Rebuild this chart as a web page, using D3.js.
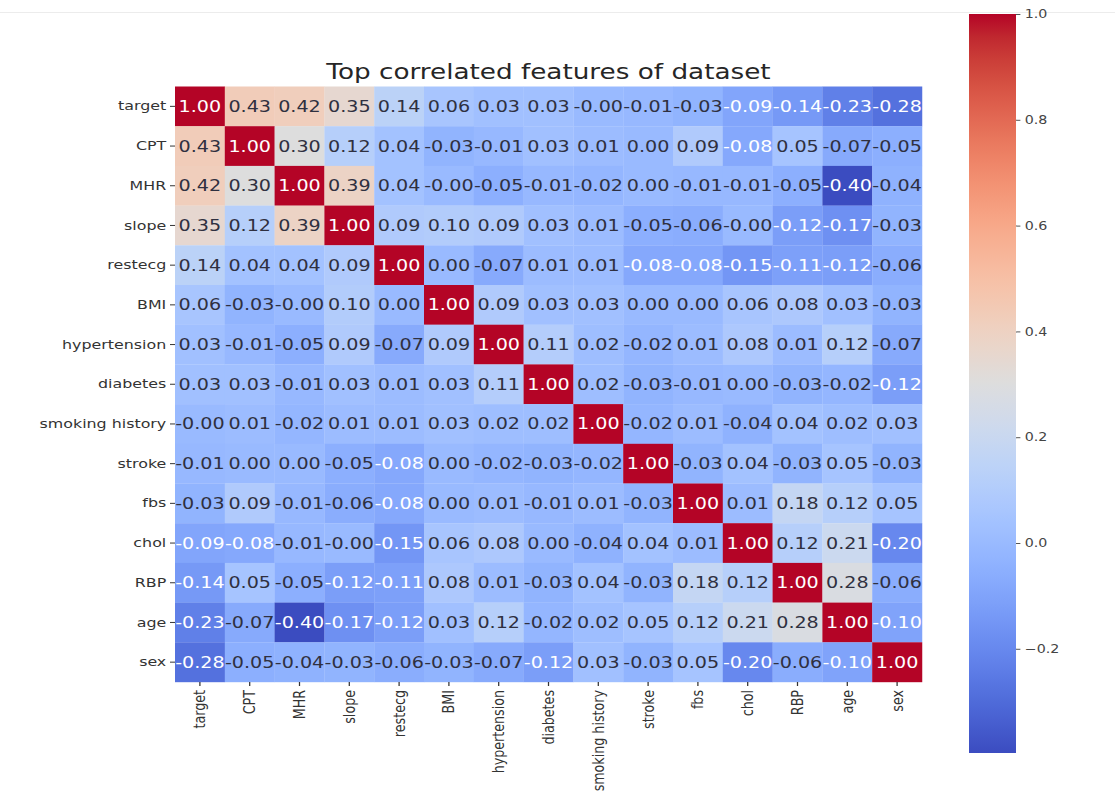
<!DOCTYPE html>
<html>
<head>
<meta charset="utf-8">
<script src="https://cdn.jsdelivr.net/npm/d3@7"></script>
<style>
  html, body { margin: 0; padding: 0; background: #ffffff; }
  svg { display: block; font-family: "DejaVu Sans", sans-serif; }
</style>
</head>
<body>
<svg id="chart" width="1115" height="800"></svg>
<script>
// ---------------- data ----------------
const features = ["target", "CPT", "MHR", "slope", "restecg", "BMI", "hypertension", "diabetes",
  "smoking history", "stroke", "fbs", "chol", "RBP", "age", "sex"];

const rowTarget   = [1.00, 0.43, 0.42, 0.35, 0.14, 0.06, 0.03, 0.03, -0.00, -0.01, -0.03, -0.09, -0.14, -0.23, -0.28];
const rowCPT      = [0.43, 1.00, 0.30, 0.12, 0.04, -0.03, -0.01, 0.03, 0.01, 0.00, 0.09, -0.08, 0.05, -0.07, -0.05];
const rowMHR      = [0.42, 0.30, 1.00, 0.39, 0.04, -0.00, -0.05, -0.01, -0.02, 0.00, -0.01, -0.01, -0.05, -0.40, -0.04];
const rowSlope    = [0.35, 0.12, 0.39, 1.00, 0.09, 0.10, 0.09, 0.03, 0.01, -0.05, -0.06, -0.00, -0.12, -0.17, -0.03];
const rowRestecg  = [0.14, 0.04, 0.04, 0.09, 1.00, 0.00, -0.07, 0.01, 0.01, -0.08, -0.08, -0.15, -0.11, -0.12, -0.06];
const rowBMI      = [0.06, -0.03, -0.00, 0.10, 0.00, 1.00, 0.09, 0.03, 0.03, 0.00, 0.00, 0.06, 0.08, 0.03, -0.03];
const rowHypert   = [0.03, -0.01, -0.05, 0.09, -0.07, 0.09, 1.00, 0.11, 0.02, -0.02, 0.01, 0.08, 0.01, 0.12, -0.07];
const rowDiabetes = [0.03, 0.03, -0.01, 0.03, 0.01, 0.03, 0.11, 1.00, 0.02, -0.03, -0.01, 0.00, -0.03, -0.02, -0.12];
const rowSmoking  = [-0.00, 0.01, -0.02, 0.01, 0.01, 0.03, 0.02, 0.02, 1.00, -0.02, 0.01, -0.04, 0.04, 0.02, 0.03];
const rowStroke   = [-0.01, 0.00, 0.00, -0.05, -0.08, 0.00, -0.02, -0.03, -0.02, 1.00, -0.03, 0.04, -0.03, 0.05, -0.03];
const rowFbs      = [-0.03, 0.09, -0.01, -0.06, -0.08, 0.00, 0.01, -0.01, 0.01, -0.03, 1.00, 0.01, 0.18, 0.12, 0.05];
const rowChol     = [-0.09, -0.08, -0.01, -0.00, -0.15, 0.06, 0.08, 0.00, -0.04, 0.04, 0.01, 1.00, 0.12, 0.21, -0.20];
const rowRBP      = [-0.14, 0.05, -0.05, -0.12, -0.11, 0.08, 0.01, -0.03, 0.04, -0.03, 0.18, 0.12, 1.00, 0.28, -0.06];
const rowAge      = [-0.23, -0.07, -0.40, -0.17, -0.12, 0.03, 0.12, -0.02, 0.02, 0.05, 0.12, 0.21, 0.28, 1.00, -0.10];
const rowSex      = [-0.28, -0.05, -0.04, -0.03, -0.06, -0.03, -0.07, -0.12, 0.03, -0.03, 0.05, -0.20, -0.06, -0.10, 1.00];

const matrix = [rowTarget, rowCPT, rowMHR, rowSlope, rowRestecg, rowBMI, rowHypert, rowDiabetes,
  rowSmoking, rowStroke, rowFbs, rowChol, rowRBP, rowAge, rowSex];

const colorbarTicks = [-0.2, 0.0, 0.2, 0.4, 0.6, 0.8, 1.0];
const vMin = -0.397, vMax = 1.0;
const titleText = "Top correlated features of dataset";

// coolwarm colormap control points (Moreland)
const coolwarmStops = [
  [59,76,192],[68,90,204],[77,104,215],[87,117,225],[98,130,234],[108,142,241],[119,154,247],
  [130,165,251],[141,176,254],[152,185,255],[163,194,255],[174,201,253],[184,208,249],[194,213,244],
  [204,217,238],[213,219,230],[221,221,221],[229,216,209],[236,211,197],[241,204,184],[245,196,172],
  [247,187,160],[247,177,148],[247,166,135],[244,154,123],[241,141,111],[236,127,99],[229,112,88],
  [222,96,77],[213,80,66],[203,62,56],[192,40,47],[180,4,38]
];

// ---------------- helpers ----------------
const coolwarm = d3.interpolateRgbBasis ? d3.piecewise(d3.interpolateRgb,
  coolwarmStops.map(c => d3.rgb(c[0], c[1], c[2]))) : null;
const color = d3.scaleSequential(coolwarm).domain([vMin, vMax]).clamp(true);

function luminance(c) {
  const rgb = d3.rgb(c);
  const lin = v => { v /= 255; return v <= 0.03928 ? v / 12.92 : Math.pow((v + 0.055) / 1.055, 2.4); };
  return 0.2126 * lin(rgb.r) + 0.7152 * lin(rgb.g) + 0.0722 * lin(rgb.b);
}
function fmt(v) {
  const neg = v < 0 || Object.is(v, -0);
  return (neg ? "-" : "") + Math.abs(v).toFixed(2);
}

// ---------------- layout ----------------
const SX = 1.25; // horizontal stretch of the whole figure
const svg = d3.select("#chart");

svg.append("line")
  .attr("x1", 0).attr("x2", 1115).attr("y1", 12.5).attr("y2", 12.5)
  .attr("stroke", "#ececec").attr("stroke-width", 1);

const root = svg.append("g").attr("transform", `scale(${SX},1)`);

const x = d3.scaleBand().domain(features).range([175 / SX, 922 / SX]);
const y = d3.scaleBand().domain(features).range([86.5, 682]);

const cells = [];
matrix.forEach((row, i) => row.forEach((v, j) => cells.push({ r: features[i], c: features[j], v })));

root.append("g").selectAll("rect").data(cells).join("rect")
  .attr("x", d => x(d.c))
  .attr("y", d => y(d.r))
  .attr("width", x.bandwidth() + 0.2)
  .attr("height", y.bandwidth() + 0.2)
  .attr("fill", d => color(d.v));

root.append("g").selectAll("text").data(cells).join("text")
  .attr("x", d => x(d.c) + x.bandwidth() / 2)
  .attr("y", d => y(d.r) + y.bandwidth() / 2)
  .attr("text-anchor", "middle")
  .attr("dy", "0.36em")
  .attr("font-size", 15.3)
  .attr("fill", d => luminance(color(d.v)) < 0.408 ? "#ffffff" : "#2f3040")
  .text(d => fmt(d.v));

// y axis
const yAxis = root.append("g")
  .attr("transform", `translate(${175 / SX},0)`)
  .call(d3.axisLeft(y).tickSize(4).tickPadding(3));
yAxis.select(".domain").remove();
yAxis.selectAll(".tick line").attr("stroke", "#333");
yAxis.selectAll(".tick text").attr("font-size", 12.7).attr("fill", "#333")
  .attr("font-family", "DejaVu Sans");

// x axis
const xAxis = root.append("g")
  .attr("transform", "translate(0,682)")
  .call(d3.axisBottom(x).tickSize(4).tickPadding(3));
xAxis.select(".domain").remove();
xAxis.selectAll(".tick line").attr("stroke", "#333");
xAxis.selectAll(".tick text")
  .attr("font-size", 12.7).attr("fill", "#333").attr("font-family", "DejaVu Sans")
  .attr("transform", "rotate(-90)")
  .attr("text-anchor", "end")
  .attr("x", -8).attr("y", 0).attr("dy", "0.35em");

// title
root.append("text")
  .attr("x", (175 + 922) / 2 / SX)
  .attr("y", 79)
  .attr("text-anchor", "middle")
  .attr("font-size", 21)
  .attr("fill", "#262626")
  .text(titleText);

// colorbar
const cb = d3.scaleLinear().domain([vMin, vMax]).range([753, 14]);
const defs = svg.append("defs");
const grad = defs.append("linearGradient").attr("id", "cbgrad")
  .attr("x1", 0).attr("y1", 1).attr("x2", 0).attr("y2", 0);
d3.range(0, 1.0001, 1 / 64).forEach(t => {
  grad.append("stop").attr("offset", t).attr("stop-color", coolwarm(t));
});
const cbX = 969 / SX, cbW = 47 / SX;
root.append("rect")
  .attr("x", cbX).attr("y", cb(vMax))
  .attr("width", cbW).attr("height", cb(vMin) - cb(vMax))
  .attr("fill", "url(#cbgrad)");

const cbAxis = root.append("g")
  .attr("transform", `translate(${cbX + cbW},0)`)
  .call(d3.axisRight(cb).tickValues(colorbarTicks).tickSize(3.5).tickPadding(3.5)
    .tickFormat(d => (d < 0 ? "\u2212" : "") + Math.abs(d).toFixed(1)));
cbAxis.select(".domain").remove();
cbAxis.selectAll(".tick line").attr("stroke", "#555");
cbAxis.selectAll(".tick text").attr("font-size", 11.4).attr("fill", "#444")
  .attr("font-family", "DejaVu Sans");
</script>
</body>
</html>
